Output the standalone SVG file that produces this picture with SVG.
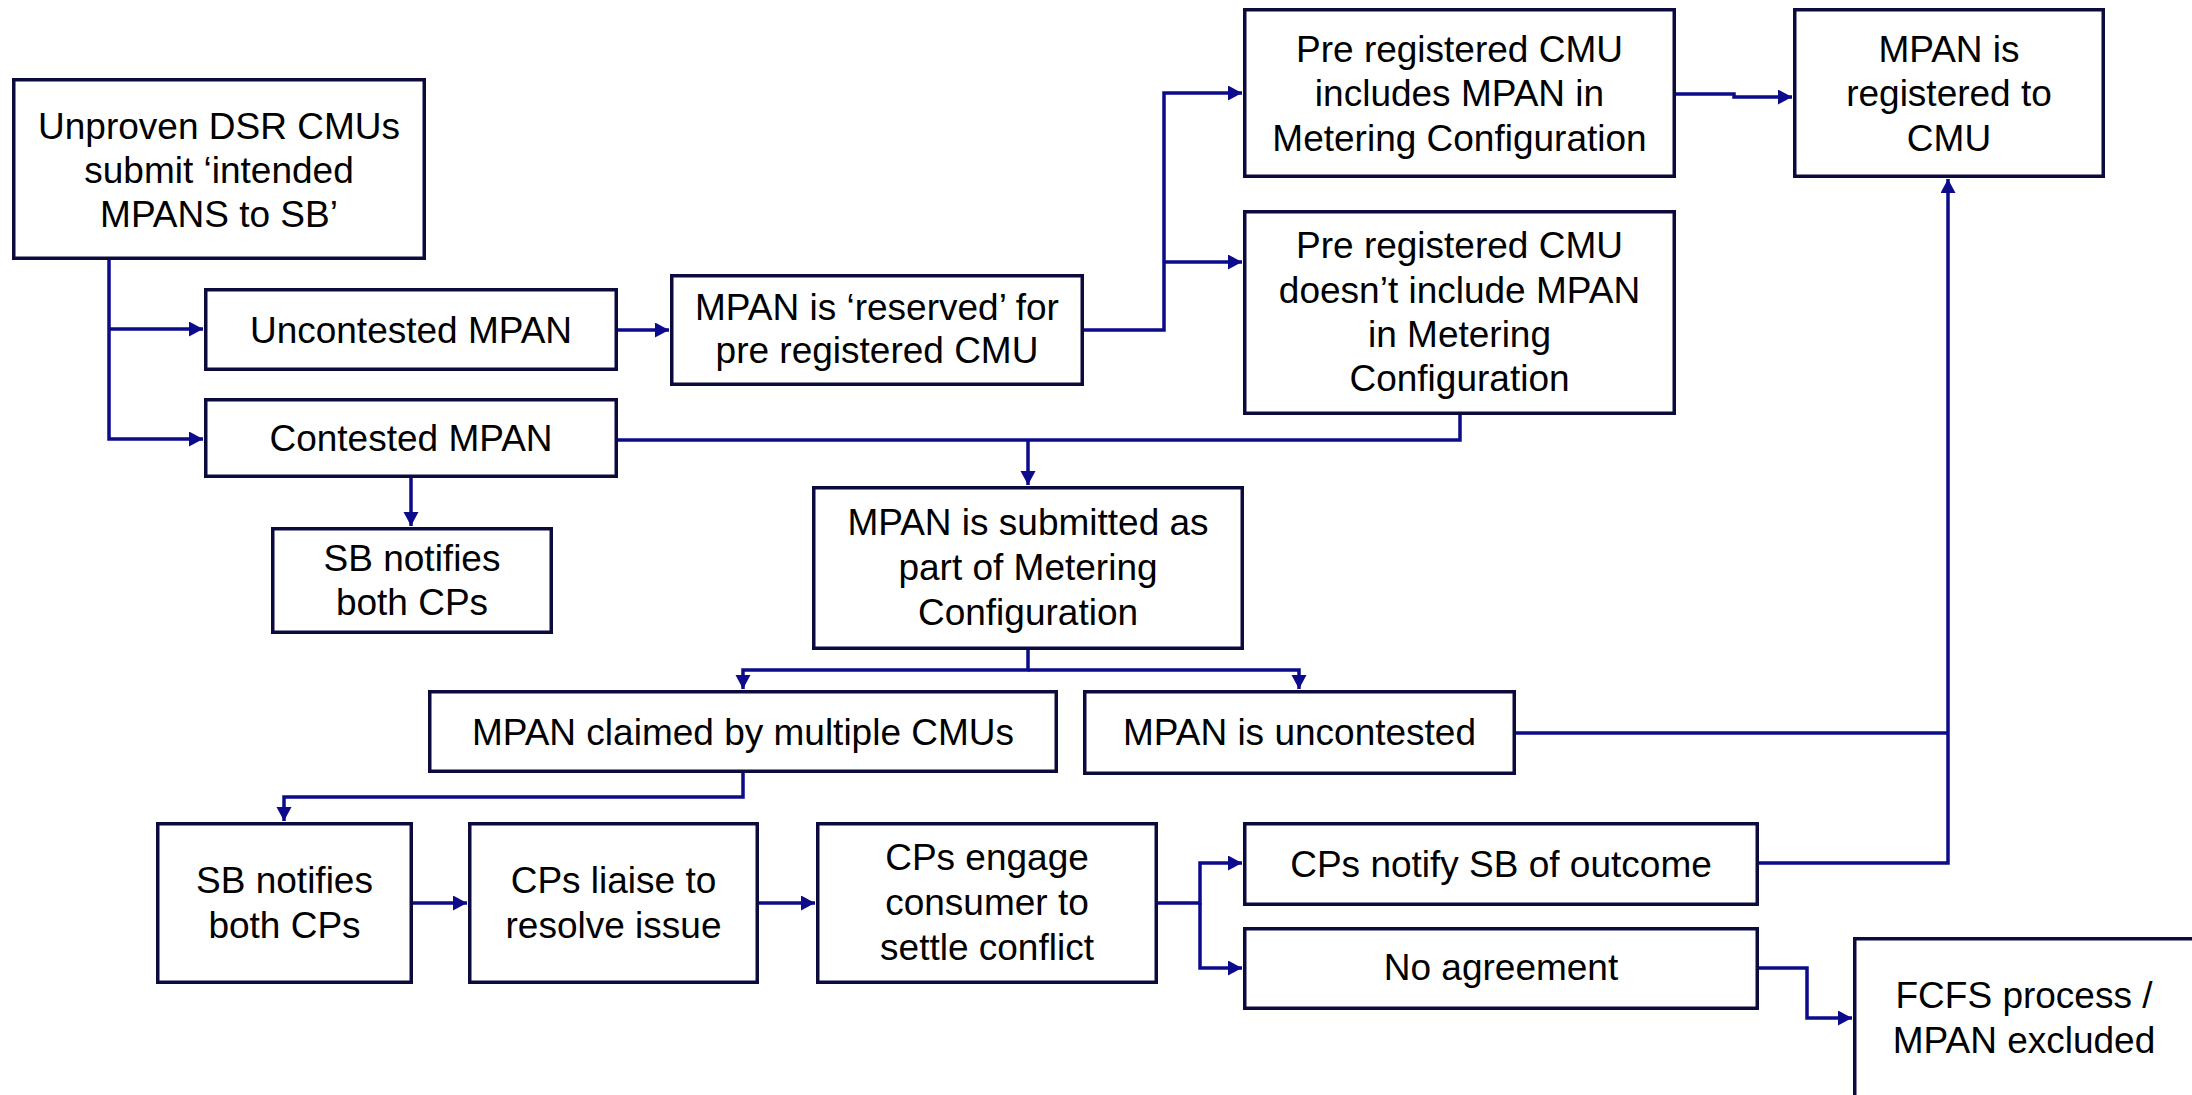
<svg xmlns="http://www.w3.org/2000/svg" width="2192" height="1095" viewBox="0 0 2192 1095">
<defs>
<marker id="arr" markerUnits="userSpaceOnUse" markerWidth="16" markerHeight="16" refX="14" refY="7.5" orient="auto">
<path d="M0,0 L14,7.5 L0,15 z" fill="#0b0b8c"/>
</marker>
<style>
.box{fill:#ffffff;stroke:#0b0b3e;stroke-width:3.5}
.t{font-family:"Liberation Sans",Arial,sans-serif;font-size:37px;fill:#000000;text-anchor:middle}
.c{fill:none;stroke:#0b0b8c;stroke-width:3.5}
.a{marker-end:url(#arr)}
</style>
</defs>
<rect width="2192" height="1095" fill="#ffffff"/>
<g id="connectors">
<path class="c a" d="M109,260 V439 H203"/>
<path class="c a" d="M109,329 H203"/>
<path class="c a" d="M618,330 H669"/>
<path class="c a" d="M1084,330 H1164 V93 H1242"/>
<path class="c a" d="M1164,262 H1242"/>
<path class="c a" d="M411,478 V526"/>
<path class="c" d="M618,440 H1460 V415"/>
<path class="c a" d="M1028,440 V485"/>
<path class="c a" d="M1028,650 V670 H743 V689"/>
<path class="c a" d="M1028,670 H1299 V689"/>
<path class="c a" d="M1676,94 H1734 V97 H1792"/>
<path class="c" d="M1516,733 H1948"/>
<path class="c a" d="M1759,863 H1948 V179"/>
<path class="c a" d="M743,773 V797 H284 V821"/>
<path class="c a" d="M413,903 H467"/>
<path class="c a" d="M759,903 H815"/>
<path class="c a" d="M1158,903 H1200 V863 H1242"/>
<path class="c a" d="M1200,903 V968 H1242"/>
<path class="c a" d="M1759,968 H1807 V1018 H1852"/>
</g>
<g id="n1"><rect class="box" x="13.75" y="79.75" width="410.5" height="178.5"/>
<text class="t" x="219" y="139">Unproven DSR CMUs</text><text class="t" x="219" y="183">submit ‘intended</text><text class="t" x="219" y="227">MPANS to SB’</text></g>
<g id="n2"><rect class="box" x="205.75" y="289.75" width="410.5" height="79.5"/>
<text class="t" x="411" y="343">Uncontested MPAN</text></g>
<g id="n3"><rect class="box" x="205.75" y="399.75" width="410.5" height="76.5"/>
<text class="t" x="411" y="451">Contested MPAN</text></g>
<g id="n4"><rect class="box" x="671.75" y="275.75" width="410.5" height="108.5"/>
<text class="t" x="877" y="320">MPAN is ‘reserved’ for</text><text class="t" x="877" y="363">pre registered CMU</text></g>
<g id="n5"><rect class="box" x="1244.75" y="9.75" width="429.5" height="166.5"/>
<text class="t" x="1459.5" y="62">Pre registered CMU</text><text class="t" x="1459.5" y="106">includes MPAN in</text><text class="t" x="1459.5" y="151">Metering Configuration</text></g>
<g id="n6"><rect class="box" x="1244.75" y="211.75" width="429.5" height="201.5"/>
<text class="t" x="1459.5" y="258">Pre registered CMU</text><text class="t" x="1459.5" y="303">doesn’t include MPAN</text><text class="t" x="1459.5" y="347">in Metering</text><text class="t" x="1459.5" y="391">Configuration</text></g>
<g id="n7"><rect class="box" x="1794.75" y="9.75" width="308.5" height="166.5"/>
<text class="t" x="1949" y="62">MPAN is</text><text class="t" x="1949" y="106">registered to</text><text class="t" x="1949" y="151">CMU</text></g>
<g id="n8"><rect class="box" x="272.75" y="528.75" width="278.5" height="103.5"/>
<text class="t" x="412" y="571">SB notifies</text><text class="t" x="412" y="615">both CPs</text></g>
<g id="n9"><rect class="box" x="813.75" y="487.75" width="428.5" height="160.5"/>
<text class="t" x="1028" y="535">MPAN is submitted as</text><text class="t" x="1028" y="580">part of Metering</text><text class="t" x="1028" y="625">Configuration</text></g>
<g id="n10"><rect class="box" x="429.75" y="691.75" width="626.5" height="79.5"/>
<text class="t" x="743" y="745">MPAN claimed by multiple CMUs</text></g>
<g id="n11"><rect class="box" x="1084.75" y="691.75" width="429.5" height="81.5"/>
<text class="t" x="1299.5" y="745">MPAN is uncontested</text></g>
<g id="n12"><rect class="box" x="157.75" y="823.75" width="253.5" height="158.5"/>
<text class="t" x="284.5" y="893">SB notifies</text><text class="t" x="284.5" y="938">both CPs</text></g>
<g id="n13"><rect class="box" x="469.75" y="823.75" width="287.5" height="158.5"/>
<text class="t" x="613.5" y="893">CPs liaise to</text><text class="t" x="613.5" y="938">resolve issue</text></g>
<g id="n14"><rect class="box" x="817.75" y="823.75" width="338.5" height="158.5"/>
<text class="t" x="987" y="870">CPs engage</text><text class="t" x="987" y="915">consumer to</text><text class="t" x="987" y="960">settle conflict</text></g>
<g id="n15"><rect class="box" x="1244.75" y="823.75" width="512.5" height="80.5"/>
<text class="t" x="1501" y="877">CPs notify SB of outcome</text></g>
<g id="n16"><rect class="box" x="1244.75" y="928.75" width="512.5" height="79.5"/>
<text class="t" x="1501" y="980">No agreement</text></g>
<g id="n17"><rect class="box" x="1854.75" y="938.75" width="345" height="170"/>
<text class="t" x="2024" y="1008">FCFS process /</text><text class="t" x="2024" y="1053">MPAN excluded</text></g>
</svg>
